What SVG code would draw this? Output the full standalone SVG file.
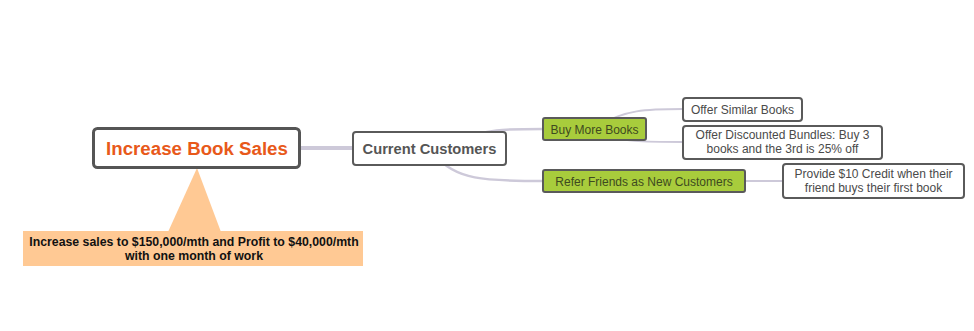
<svg xmlns="http://www.w3.org/2000/svg" width="974" height="331" viewBox="0 0 974 331">
<style>
.bg{fill:#ffffff}
.conn{fill:none;stroke:#cdc9d9;stroke-linecap:round}
.box{fill:#ffffff;stroke:#5a5a5a;stroke-width:2}
.green{fill:#a8cc3c;stroke:#5a5a5a;stroke-width:2}
.t{font-family:"Liberation Sans",Arial,sans-serif;font-size:12px;fill:#4a4a4a;text-anchor:middle}
.tg{font-family:"Liberation Sans",Arial,sans-serif;font-size:12px;fill:#3e4a20;text-anchor:middle}
.ct{font-family:"Liberation Sans",Arial,sans-serif;font-size:12.3px;font-weight:bold;fill:#111;text-anchor:middle}
</style>
<rect class="bg" x="0" y="0" width="974" height="331"/>
<g id="connectors">
<path class="conn" stroke-width="4" d="M300,148 L353,148"/>
<path class="conn" stroke-width="2.5" d="M460,140 C485,129 505,129 543,129"/>
<path class="conn" stroke-width="2.5" d="M435,155 C455,180 485,181 543,181"/>
<path class="conn" stroke-width="2" d="M600,125 C625,110 645,109 683,109"/>
<path class="conn" stroke-width="2" d="M600,133 C620,142 645,142 683,142"/>
<path class="conn" stroke-width="2" d="M745,181 L783,181"/>
</g>
<g id="callout">
<polygon points="197,168 168,232 221,232" fill="#ffc994"/>
<rect x="23" y="231" width="340" height="35" fill="#ffc994"/>
<text class="ct" x="194" y="246">Increase sales to $150,000/mth and Profit to $40,000/mth</text>
<text class="ct" x="194" y="259.5">with one month of work</text>
</g>
<g id="root">
<rect x="93.5" y="128.5" width="206" height="39" rx="4" fill="#fff" stroke="#555" stroke-width="3"/>
<text x="197" y="155" font-family="'Liberation Sans',Arial,sans-serif" font-size="18.7" font-weight="bold" fill="#e8591a" text-anchor="middle">Increase Book Sales</text>
</g>
<g id="current-customers">
<rect class="box" x="353" y="132" width="153" height="33" rx="3"/>
<text x="429.5" y="153.5" font-family="'Liberation Sans',Arial,sans-serif" font-size="14.7" font-weight="bold" fill="#555" text-anchor="middle">Current Customers</text>
</g>
<g id="buy-more-books">
<rect class="green" x="543" y="118" width="103" height="22" rx="2"/>
<text class="tg" x="594.5" y="133.5">Buy More Books</text>
</g>
<g id="refer-friends">
<rect class="green" x="543" y="170" width="202" height="22" rx="2"/>
<text class="tg" x="644" y="185.5">Refer Friends as New Customers</text>
</g>
<g id="offer-similar">
<rect class="box" x="683" y="98" width="119" height="23" rx="3"/>
<text class="t" x="742.5" y="113.5">Offer Similar Books</text>
</g>
<g id="offer-discounted">
<rect class="box" x="683" y="126" width="199" height="33" rx="3"/>
<text class="t" x="782.5" y="139">Offer Discounted Bundles: Buy 3</text>
<text class="t" x="782.5" y="153">books and the 3rd is 25% off</text>
</g>
<g id="provide-credit">
<rect class="box" x="783" y="164" width="181" height="34" rx="3"/>
<text class="t" x="873.5" y="177.5">Provide $10 Credit when their</text>
<text class="t" x="873.5" y="191.5">friend buys their first book</text>
</g>
</svg>
